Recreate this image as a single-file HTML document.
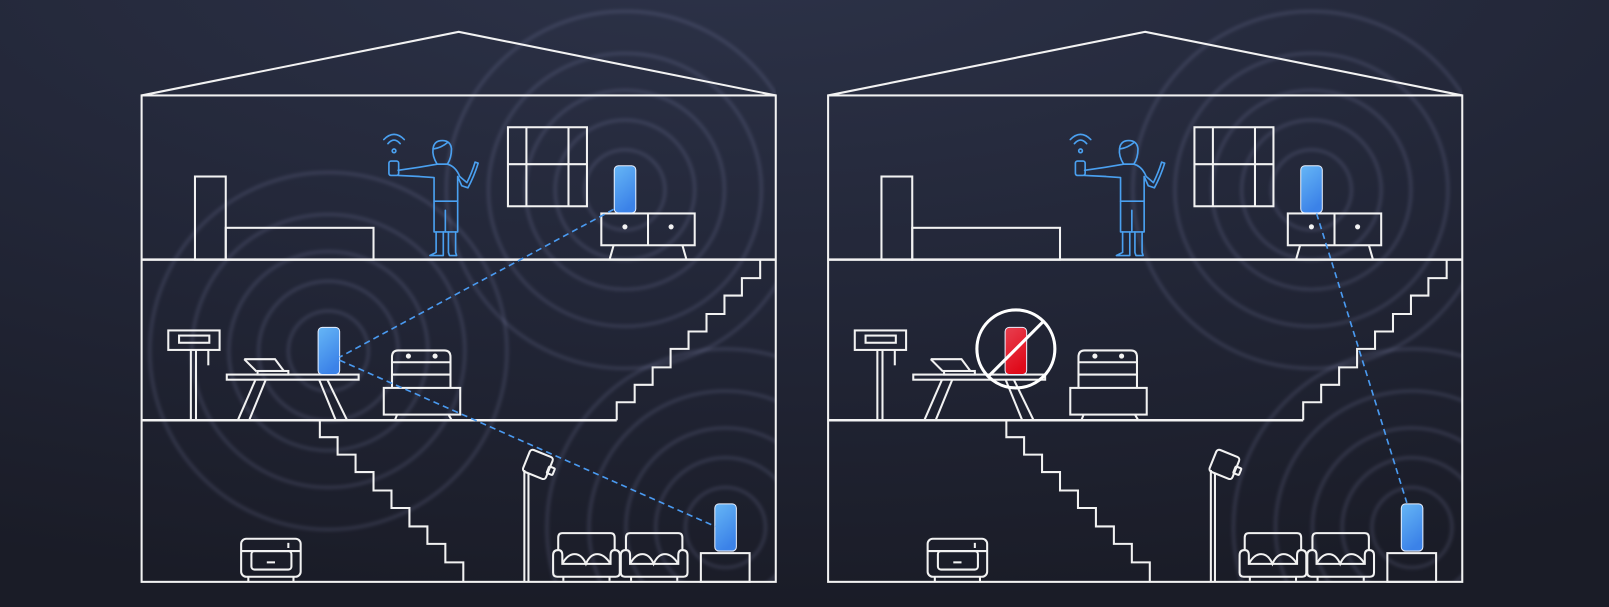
<!DOCTYPE html>
<html><head><meta charset="utf-8"><style>
html,body{margin:0;padding:0;width:1609px;height:607px;overflow:hidden;background:#1c1f2b}
svg{display:block;overflow:hidden}
</style></head><body>
<svg width="1609" height="607" viewBox="0 0 1568 591.5" preserveAspectRatio="none" xmlns="http://www.w3.org/2000/svg">
<defs>
<radialGradient id="bg" cx="0.45" cy="-0.1" r="1.1">
<stop offset="0" stop-color="#2d3349"/><stop offset="0.55" stop-color="#222637"/><stop offset="1" stop-color="#1a1c27"/>
</radialGradient>
<linearGradient id="dev" x1="0" y1="0" x2="0.4" y2="1">
<stop offset="0" stop-color="#66b6f6"/><stop offset="1" stop-color="#3b82e8"/>
</linearGradient>
<linearGradient id="red" x1="0" y1="0" x2="0.4" y2="1">
<stop offset="0" stop-color="#e84050"/><stop offset="1" stop-color="#e00a1a"/>
</linearGradient>
<filter id="bl" x="-20%" y="-20%" width="140%" height="140%"><feGaussianBlur stdDeviation="1.6"/></filter>
<g id="rings" fill="none" stroke="rgba(175,185,235,0.14)" stroke-width="3.5" filter="url(#bl)">
<circle r="39"/><circle r="68"/><circle r="97"/><circle r="133"/><circle r="174"/>
</g>
<clipPath id="hc"><rect x="138" y="0" width="618" height="567"/></clipPath>
<g id="house" fill="none" stroke="#f2f2f2" stroke-width="2">
<polyline points="138,93 447,31 756,93"/>
<rect x="138" y="93" width="618" height="474"/>
<line x1="138" y1="253" x2="756" y2="253" stroke-width="2.5"/>
<line x1="138" y1="409.5" x2="601" y2="409.5" stroke-width="2.5"/>
<rect x="190" y="172" width="30" height="81"/>
<rect x="220" y="222" width="144" height="31"/>
<rect x="495" y="124" width="77" height="77"/>
<line x1="513" y1="124" x2="513" y2="201"/><line x1="554" y1="124" x2="554" y2="201"/><line x1="495" y1="160" x2="572" y2="160"/>
<rect x="586" y="208" width="91" height="31"/><line x1="631.5" y1="208" x2="631.5" y2="239"/>
<circle cx="609" cy="221" r="1.5" fill="#fff"/><circle cx="654" cy="221" r="1.5" fill="#fff"/>
<polyline points="598,239 594,253"/><polyline points="665,239 669,253"/>
<rect x="164" y="322" width="50" height="19"/><rect x="174.5" y="327" width="29.5" height="7"/>
<line x1="186" y1="341" x2="186" y2="409"/><line x1="191" y1="341" x2="191" y2="409"/>
<line x1="203" y1="341" x2="203" y2="356"/>
<rect x="221" y="365" width="128.5" height="5"/>
<line x1="249" y1="370" x2="232" y2="409"/><line x1="259" y1="370" x2="243" y2="409"/>
<line x1="311" y1="370" x2="327" y2="409"/><line x1="319" y1="370" x2="338" y2="409"/>
<polyline points="238,350 268,350 277,362"/><line x1="238" y1="350" x2="250" y2="362"/>
<rect x="251" y="361.5" width="30" height="3.5"/>
<path d="M382,378 V348 Q382,341.5 388,341.5 H433 Q439,341.5 439,348 V378"/>
<line x1="382" y1="353" x2="439" y2="353"/><line x1="382" y1="365" x2="439" y2="365"/>
<circle cx="398" cy="347" r="1.5" fill="#fff"/><circle cx="424" cy="347" r="1.5" fill="#fff"/>
<rect x="374" y="378" width="74.5" height="26"/>
<line x1="387" y1="404" x2="385" y2="409"/><line x1="437" y1="404" x2="440" y2="409"/>
<path d="M601,409.5 V392 H618.5 V375 H636 V358 H653.5 V340 H671 V323 H688.5 V306 H706 V288 H723 V271 H740.8 V253"/>
<path d="M311.7,409.5 V426 H329 V443 H346.5 V460 H364 V478 H381.5 V495 H399 V513 H416.5 V530 H434 V548 H451.5 V567"/>
<line x1="511" y1="458" x2="511" y2="567"/><line x1="515" y1="461" x2="515" y2="567"/>
<g transform="translate(524,453) rotate(22)"><rect x="-12" y="-12" width="24" height="23" rx="3"/><rect x="11" y="-3" width="6" height="7" rx="1"/></g>
<g id="sofa">
<path d="M544,536 V524 Q544,519.5 548,519.5 H595 Q599,519.5 599,524 V536"/>
<path d="M544,536 Q539,536 539,541 V558 Q539,562 543,562 H600 Q604,562 604,558 V541 Q604,536 599,536 Q595,536 595,541 V549.5 H548 V541 Q548,536 544,536 Z"/>
<path d="M548,549.5 Q553,540 560,540 Q567,540 571,549.5 Q575,540 582,540 Q589,540 595,549.5"/>
<line x1="549" y1="562" x2="549" y2="566"/><line x1="594" y1="562" x2="594" y2="566"/>
</g>
<use href="#sofa" transform="translate(66,0)"/>
<rect x="683" y="539" width="47.5" height="28"/>
<rect x="235" y="525" width="58" height="37" rx="5"/>
<path d="M235,537 H293"/>
<rect x="245" y="537" width="39" height="18" rx="3"/>
<line x1="281" y1="529" x2="281" y2="534"/><line x1="260" y1="548" x2="268" y2="548"/>
<line x1="242" y1="562" x2="242" y2="567"/><line x1="286" y1="562" x2="286" y2="567"/>
<g stroke="#4aa0f0" stroke-width="1.6" stroke-linejoin="round" stroke-linecap="round">
<path d="M378,140 Q384,133 390,140"/><path d="M374,136 Q384,126 394,136"/><circle cx="384" cy="147" r="1.8"/>
<rect x="379" y="157" width="9.5" height="14" rx="2"/>
<path d="M426,160 Q421,152 422,145 Q423,137 431,137 Q439,137 440,145 Q440,154 436,160 Z"/>
<path d="M423,145 Q430,144 436,139"/>
<path d="M388,166 L408,163 L426,160 L436,160 Q444,162 448,172 L455,178 Q460,168 463,158 L466,159 Q462,172 456,183 L450,181 L446,172 L446,196 L423,196 L423,173 L409,172 L388,171"/>
<path d="M423,196 V226 L446,226 V196"/><line x1="434" y1="205" x2="434" y2="226"/>
<path d="M425,226 V246 L419,249 L432,249 V226"/><path d="M437,226 V246 L438,249 L445,249 L444,246 V226"/>
</g>
</g>
</defs>
<rect width="1568" height="591.5" fill="url(#bg)"/>

<g clip-path="url(#hc)">
<use href="#rings" transform="translate(609,185)"/>
<use href="#rings" transform="translate(320,342)"/>
<use href="#rings" transform="translate(707,514)"/>
</g>
<g clip-path="url(#hc)" transform="translate(669,0)">
<use href="#rings" transform="translate(609,185)"/>
<use href="#rings" transform="translate(707,514)"/>
</g>

<use href="#house"/>
<use href="#house" transform="translate(669,0)"/>

<g stroke="#e8f0ff" stroke-width="1">
<rect x="598.6" y="161.5" width="21" height="46" rx="4" fill="url(#dev)"/>
<rect x="310" y="319" width="21" height="46" rx="4" fill="url(#dev)"/>
<rect x="696.6" y="491" width="21" height="46" rx="4" fill="url(#dev)"/>
<rect x="1267.6" y="161.5" width="21" height="46" rx="4" fill="url(#dev)"/>
<rect x="1365.6" y="491" width="21" height="46" rx="4" fill="url(#dev)"/>
<rect x="979.5" y="319" width="21" height="46" rx="4" fill="url(#red)"/>
</g>
<g fill="none" stroke="#4a9af0" stroke-width="1.6" stroke-dasharray="6,4">
<line x1="598" y1="204" x2="331" y2="348"/>
<line x1="331" y1="351" x2="697" y2="513"/>
<line x1="1283" y1="208" x2="1371" y2="490"/>
</g>
<g fill="none" stroke="#fff" stroke-width="3">
<circle cx="990" cy="340" r="38"/>
<line x1="963" y1="367" x2="1017" y2="313"/>
</g>
</svg>
</body></html>
